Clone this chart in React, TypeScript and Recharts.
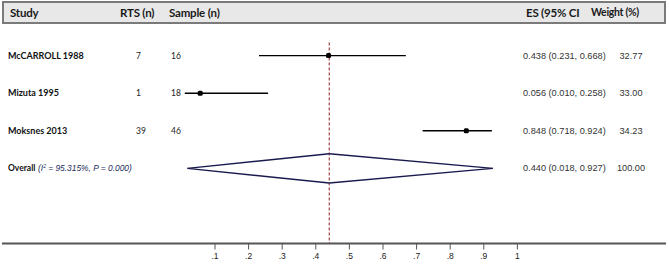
import { ComposedChart, XAxis, YAxis, Scatter, ReferenceLine } from 'recharts';

const studies = ['McCARROLL 1988', 'Mizuta 1995', 'Moksnes 2013'];
const rtsCounts = [7, 1, 39];
const sampleCounts = [16, 18, 46];
const esValues = [0.438, 0.056, 0.848];
const ciLow = [0.231, 0.01, 0.718];
const ciHigh = [0.668, 0.258, 0.924];
const weights = ['32.77', '33.00', '34.23'];

const overallEs = 0.44;
const overallLow = 0.018;
const overallHigh = 0.927;
const overallWeight = '100.00';
const overallI2 = '95.315%';
const overallP = '0.000';

const xTicks = [0.1, 0.2, 0.3, 0.4, 0.5, 0.6, 0.7, 0.8, 0.9, 1];

const W = 669;
const H = 265;
const X_DOMAIN: [number, number] = [-0.5339, 1.4423];
const Y_DOMAIN: [number, number] = [-1.48, 5];
const DIAMOND_H = 0.39;
const LABEL_FONT = 'Lato, "Open Sans", sans-serif';
const NUM_FONT = '"Liberation Sans", Arial, sans-serif';

const studyRows = studies.map((name, i) => ({
    name,
    row: i,
    x: esValues[i],
    rts: rtsCounts[i],
    sample: sampleCounts[i],
    esText: `${esValues[i].toFixed(3)} (${ciLow[i].toFixed(3)}, ${ciHigh[i].toFixed(3)})`,
    weight: weights[i],
}));

const overallRow = {
    row: studies.length,
    x: overallEs,
    esText: `${overallEs.toFixed(3)} (${overallLow.toFixed(3)}, ${overallHigh.toFixed(3)})`,
    weight: overallWeight,
};

const numStyle = { fontFamily: NUM_FONT, fontSize: 9.2 };

function StudyText(props: any) {
    const { cy, payload } = props;
    return (
        <g>
            <text x={8} y={cy + 3} fontFamily={LABEL_FONT} fontWeight={700} fontSize={9} fill="#111">{payload.name}</text>
            <text x={136} y={cy + 3} fontFamily={LABEL_FONT} fontSize={8.5} fill="#222">{payload.rts}</text>
            <text x={171} y={cy + 3} fontFamily={LABEL_FONT} fontSize={8.5} fill="#222">{payload.sample}</text>
            <text x={523} y={cy + 3} style={numStyle} fill="#333">{payload.esText}</text>
            <text x={631} y={cy + 3} textAnchor="middle" style={numStyle} fill="#333">{payload.weight}</text>
        </g>
    );
}

function OverallText(props: any) {
    const { cy, payload } = props;
    return (
        <g>
            <text x={8} y={cy + 3} fontFamily={LABEL_FONT} fontWeight={700} fontSize={8.5} fill="#111">Overall</text>
            <text x={38} y={cy + 3} style={{ fontFamily: NUM_FONT, fontSize: 8.4, fontStyle: 'italic' }} fill="#1c2c5c">
                (I<tspan dy={-3} fontSize={5}>2</tspan><tspan dy={3}>{` = ${overallI2}, P = ${overallP})`}</tspan>
            </text>
            <text x={523} y={cy + 3} style={numStyle} fill="#333">{payload.esText}</text>
            <text x={631} y={cy + 3} textAnchor="middle" style={numStyle} fill="#333">{payload.weight}</text>
        </g>
    );
}

function Marker(props: any) {
    const { cx, cy } = props;
    return <rect x={cx - 2.5} y={cy - 2.5} width={5} height={5} rx={1.5} fill="#000" />;
}

export default function App() {
    const lo = overallLow, hi = overallHigh, mid = overallEs, r = overallRow.row;
    return (
        <div style={{ position: 'absolute', left: 0, top: 0, width: W, height: H, background: '#fff' }}>
            <div
                style={{
                    position: 'absolute', left: 2, top: 1, width: 664, height: 23,
                    boxSizing: 'border-box', background: '#e8e8e8', border: '2px solid #7a7a7a',
                    fontFamily: LABEL_FONT, fontWeight: 700, fontSize: 11.5, color: '#1a1a1a',
                    letterSpacing: -0.2,
                }}
            >
                <span style={{ position: 'absolute', left: 6, top: 3 }}>Study</span>
                <span style={{ position: 'absolute', left: 116, top: 3 }}>RTS (n)</span>
                <span style={{ position: 'absolute', left: 165, top: 3 }}>Sample (n)</span>
                <span style={{ position: 'absolute', left: 522, top: 3 }}>ES (95% CI</span>
                <span style={{ position: 'absolute', left: 587, top: 3, fontSize: 10.5, letterSpacing: -0.3 }}>Weight (%)</span>
            </div>
            <ComposedChart width={W} height={H} margin={{ top: 0, right: 3, bottom: 0, left: 2 }}>
                <XAxis
                    type="number"
                    dataKey="x"
                    domain={X_DOMAIN}
                    allowDataOverflow
                    ticks={xTicks}
                    interval={0}
                    height={21.5}
                    tickSize={6}
                    tickMargin={3}
                    axisLine={{ stroke: '#555', strokeWidth: 2 }}
                    tickLine={{ stroke: '#555', strokeWidth: 1 }}
                    tick={{ fontSize: 8.5, fontFamily: NUM_FONT, fill: '#222' }}
                    tickFormatter={(v: number) => (v >= 1 ? '1' : '.' + Math.round(v * 10))}
                />
                <YAxis type="number" dataKey="row" domain={Y_DOMAIN} reversed allowDataOverflow hide />
                <ReferenceLine
                    segment={[{ x: mid, y: -0.35 }, { x: mid, y: Y_DOMAIN[1] }]}
                    stroke="#8b1a1a"
                    strokeDasharray="3 2"
                    strokeWidth={1}
                />
                {studyRows.map((d, i) => (
                    <ReferenceLine
                        key={`ci-${i}`}
                        segment={[{ x: ciLow[i], y: d.row }, { x: ciHigh[i], y: d.row }]}
                        stroke="#000"
                        strokeWidth={1.4}
                    />
                ))}
                <ReferenceLine segment={[{ x: lo, y: r }, { x: mid, y: r - DIAMOND_H }]} stroke="#1a1a4e" strokeWidth={1.4} />
                <ReferenceLine segment={[{ x: mid, y: r - DIAMOND_H }, { x: hi, y: r }]} stroke="#1a1a4e" strokeWidth={1.4} />
                <ReferenceLine segment={[{ x: hi, y: r }, { x: mid, y: r + DIAMOND_H }]} stroke="#1a1a4e" strokeWidth={1.4} />
                <ReferenceLine segment={[{ x: mid, y: r + DIAMOND_H }, { x: lo, y: r }]} stroke="#1a1a4e" strokeWidth={1.4} />
                <Scatter data={studyRows} dataKey="row" shape={<Marker />} isAnimationActive={false} />
                <Scatter data={studyRows} dataKey="row" shape={<StudyText />} isAnimationActive={false} />
                <Scatter data={[overallRow]} dataKey="row" shape={<OverallText />} isAnimationActive={false} />
            </ComposedChart>
        </div>
    );
}
